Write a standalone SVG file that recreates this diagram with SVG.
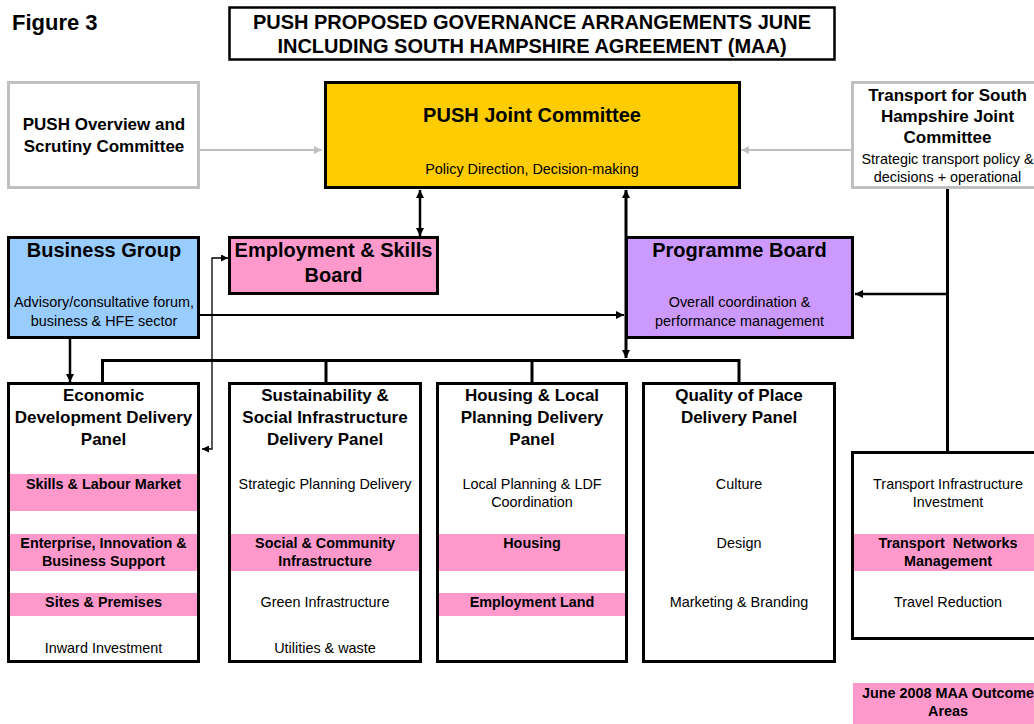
<svg xmlns="http://www.w3.org/2000/svg" width="1034" height="724" viewBox="0 0 1034 724">
  <style>
    text { font-family: "Liberation Sans", Arial, sans-serif; fill: #000; text-anchor: middle; }
    .fig { font-size: 22px; font-weight: bold; text-anchor: start; }
    .ttl { font-size: 20px; font-weight: bold; }
    .big { font-size: 20px; font-weight: bold; }
    .hd { font-size: 17px; font-weight: bold; }
    .sm { font-size: 14.4px; }
    .smb { font-size: 14.4px; font-weight: bold; }
    .box { stroke: #000; stroke-width: 3; }
    .gbox { fill: #fff; stroke: #c0c0c0; stroke-width: 3; }
    .pink { fill: #ff99cc; }
    .wire { stroke: #000; fill: none; }
    .gwire { stroke: #c0c0c0; stroke-width: 2; fill: none; }
  </style>
  <defs>
    <marker id="ah" viewBox="0 0 10 10" refX="10" refY="5" markerWidth="9" markerHeight="8" markerUnits="userSpaceOnUse" orient="auto-start-reverse">
      <path d="M0,0 L10,5 L0,10 z" fill="#000"/>
    </marker>
    <marker id="ahs" viewBox="0 0 10 10" refX="10" refY="5" markerWidth="8" markerHeight="7" markerUnits="userSpaceOnUse" orient="auto-start-reverse">
      <path d="M0,0 L10,5 L0,10 z" fill="#000"/>
    </marker>
    <marker id="ahg" viewBox="0 0 10 10" refX="10" refY="5" markerWidth="10" markerHeight="8" markerUnits="userSpaceOnUse" orient="auto-start-reverse">
      <path d="M0,0 L10,5 L0,10 z" fill="#c0c0c0"/>
    </marker>
  </defs>

  <rect width="1034" height="724" fill="#fff"/>

  <!-- heading -->
  <text class="fig" x="12" y="30">Figure 3</text>
  <g id="title">
    <rect x="229.5" y="7.5" width="605" height="52" fill="#fff" stroke="#000" stroke-width="2.5"/>
    <text class="ttl" x="532" y="29">PUSH PROPOSED GOVERNANCE ARRANGEMENTS JUNE</text>
    <text class="ttl" x="532" y="53">INCLUDING SOUTH HAMPSHIRE AGREEMENT (MAA)</text>
  </g>

  <!-- connectors -->
  <g id="connectors">
    <line class="gwire" x1="200" y1="150" x2="322" y2="150" marker-end="url(#ahg)"/>
    <line class="gwire" x1="851" y1="150" x2="741" y2="150" marker-end="url(#ahg)"/>
    <line class="wire" stroke-width="2.5" x1="420" y1="190" x2="420" y2="236" marker-start="url(#ah)" marker-end="url(#ah)"/>
    <line class="wire" stroke-width="3" x1="626" y1="190" x2="626" y2="358" marker-start="url(#ah)" marker-end="url(#ah)"/>
    <path class="wire" stroke-width="3" d="M102.5,383 V360.5 H739 V383 M326,360.5 V383 M532,360.5 V383"/>
    <line class="wire" stroke-width="2.5" x1="70" y1="339" x2="70" y2="382" marker-end="url(#ah)"/>
    <line class="wire" stroke-width="2" x1="200" y1="315" x2="624" y2="315" marker-end="url(#ah)"/>
    <polyline class="wire" stroke-width="1.3" points="202,449 212,449 212,258 228,258" marker-start="url(#ahs)" marker-end="url(#ahs)"/>
    <line class="wire" stroke-width="3" x1="947.5" y1="189" x2="947.5" y2="452"/>
    <line class="wire" stroke-width="2.5" x1="947.5" y1="294" x2="855" y2="294" marker-end="url(#ah)"/>
  </g>

  <!-- committees and boards -->
  <g id="overview-scrutiny">
    <rect class="gbox" x="8.5" y="82.5" width="190" height="105"/>
    <text class="hd" x="104" y="130">PUSH Overview and</text>
    <text class="hd" x="104" y="152">Scrutiny Committee</text>
  </g>

  <g id="joint-committee">
    <rect class="box" x="325.5" y="82.5" width="414" height="105" fill="#ffcc00"/>
    <text class="big" x="532" y="122">PUSH Joint Committee</text>
    <text class="sm" x="532" y="174">Policy Direction, Decision-making</text>
  </g>

  <g id="transport-committee">
    <rect class="gbox" x="852.5" y="82.5" width="200" height="105"/>
    <text class="hd" x="947.5" y="101">Transport for South</text>
    <text class="hd" x="947.5" y="122">Hampshire Joint</text>
    <text class="hd" x="947.5" y="143">Committee</text>
    <text class="sm" x="947.5" y="164">Strategic transport policy &amp;</text>
    <text class="sm" x="947.5" y="182">decisions + operational</text>
  </g>

  <g id="business-group">
    <rect class="box" x="8.5" y="237.5" width="190" height="100" fill="#99ccff"/>
    <text class="big" x="104" y="257">Business Group</text>
    <text class="sm" x="104" y="307">Advisory/consultative forum,</text>
    <text class="sm" x="104" y="326">business &amp; HFE sector</text>
  </g>

  <g id="employment-skills-board">
    <rect class="box" x="229.5" y="237.5" width="208" height="56" fill="#ff99cc"/>
    <text class="big" x="333.5" y="257">Employment &amp; Skills</text>
    <text class="big" x="333.5" y="282">Board</text>
  </g>

  <g id="programme-board">
    <rect class="box" x="626.5" y="237.5" width="226" height="100" fill="#cc99ff"/>
    <text class="big" x="739.5" y="257">Programme Board</text>
    <text class="sm" x="739.5" y="307">Overall coordination &amp;</text>
    <text class="sm" x="739.5" y="326">performance management</text>
  </g>

  <!-- delivery panels -->
  <g id="economic-panel">
    <rect x="8" y="383" width="191" height="279" fill="#fff"/>
    <rect class="pink" x="8" y="474" width="191" height="37"/>
    <rect class="pink" x="8" y="534" width="191" height="37"/>
    <rect class="pink" x="8" y="593" width="191" height="23"/>
    <rect class="box" x="8.5" y="383.5" width="190" height="278" fill="none"/>
    <text class="hd" x="103.5" y="401">Economic</text>
    <text class="hd" x="103.5" y="423">Development Delivery</text>
    <text class="hd" x="103.5" y="445">Panel</text>
    <text class="smb" x="103.5" y="489">Skills &amp; Labour Market</text>
    <text class="smb" x="103.5" y="548">Enterprise, Innovation &amp;</text>
    <text class="smb" x="103.5" y="566">Business Support</text>
    <text class="smb" x="103.5" y="607">Sites &amp; Premises</text>
    <text class="sm" x="103.5" y="653">Inward Investment</text>
  </g>

  <g id="sustainability-panel">
    <rect x="229" y="383" width="192" height="279" fill="#fff"/>
    <rect class="pink" x="229" y="534" width="192" height="37"/>
    <rect class="box" x="229.5" y="383.5" width="191" height="278" fill="none"/>
    <text class="hd" x="325" y="401">Sustainability &amp;</text>
    <text class="hd" x="325" y="423">Social Infrastructure</text>
    <text class="hd" x="325" y="445">Delivery Panel</text>
    <text class="sm" x="325" y="489">Strategic Planning Delivery</text>
    <text class="smb" x="325" y="548">Social &amp; Community</text>
    <text class="smb" x="325" y="566">Infrastructure</text>
    <text class="sm" x="325" y="607">Green Infrastructure</text>
    <text class="sm" x="325" y="653">Utilities &amp; waste</text>
  </g>

  <g id="housing-panel">
    <rect x="437" y="383" width="190" height="279" fill="#fff"/>
    <rect class="pink" x="437" y="534" width="190" height="37"/>
    <rect class="pink" x="437" y="593" width="190" height="23"/>
    <rect class="box" x="437.5" y="383.5" width="189" height="278" fill="none"/>
    <text class="hd" x="532" y="401">Housing &amp; Local</text>
    <text class="hd" x="532" y="423">Planning Delivery</text>
    <text class="hd" x="532" y="445">Panel</text>
    <text class="sm" x="532" y="489">Local Planning &amp; LDF</text>
    <text class="sm" x="532" y="507">Coordination</text>
    <text class="smb" x="532" y="548">Housing</text>
    <text class="smb" x="532" y="607">Employment Land</text>
  </g>

  <g id="quality-panel">
    <rect class="box" x="643.5" y="383.5" width="191" height="278" fill="#fff"/>
    <text class="hd" x="739" y="401">Quality of Place</text>
    <text class="hd" x="739" y="423">Delivery Panel</text>
    <text class="sm" x="739" y="489">Culture</text>
    <text class="sm" x="739" y="548">Design</text>
    <text class="sm" x="739" y="607">Marketing &amp; Branding</text>
  </g>

  <g id="transport-panel">
    <rect x="852" y="452" width="200" height="187" fill="#fff"/>
    <rect class="pink" x="852" y="534" width="200" height="37"/>
    <rect class="box" x="852.5" y="452.5" width="200" height="186" fill="none"/>
    <text class="sm" x="948" y="489">Transport Infrastructure</text>
    <text class="sm" x="948" y="507">Investment</text>
    <text class="smb" x="948" y="548" style="white-space:pre">Transport  Networks</text>
    <text class="smb" x="948" y="566">Management</text>
    <text class="sm" x="948" y="607">Travel Reduction</text>
  </g>

  <!-- key -->
  <g id="legend">
    <rect class="pink" x="853" y="683" width="200" height="41"/>
    <text class="smb" x="948" y="698">June 2008 MAA Outcome</text>
    <text class="smb" x="948" y="716">Areas</text>
  </g>
</svg>
